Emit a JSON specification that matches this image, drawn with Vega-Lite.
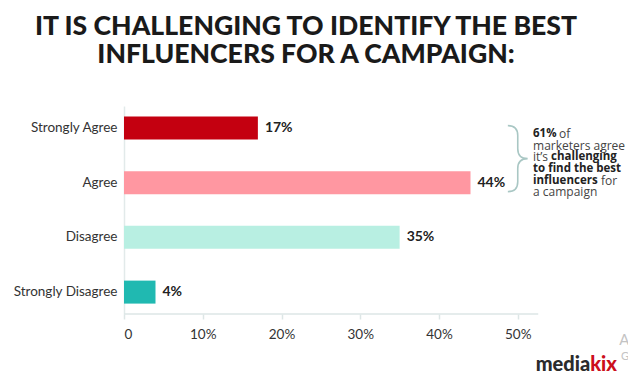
{
  "$schema": "https://vega.github.io/schema/vega-lite/v6.json",
  "width": 504,
  "height": 208,
  "autosize": {"type": "none"},
  "padding": {"left": 124, "top": 106, "right": 0, "bottom": 78},
  "background": "white",
  "config": {"view": {"stroke": null}, "font": "Lato"},
  "title": {
    "text": ["IT IS CHALLENGING TO IDENTIFY THE BEST", "INFLUENCERS FOR A CAMPAIGN:"],
    "font": "Lato", "fontWeight": 900, "fontSize": 26.6, "lineHeight": 28.5,
    "color": "#1a1a1a", "anchor": "middle", "frame": "group", "dx": -70, "offset": 37
  },
  "resolve": {"scale": {"y": "independent"}},
  "layer": [
    {
      "data": {"values": [
        {"response": "Strongly Agree", "pct": 17, "label": "17%"},
        {"response": "Agree", "pct": 44, "label": "44%"},
        {"response": "Disagree", "pct": 35, "label": "35%"},
        {"response": "Strongly Disagree", "pct": 4, "label": "4%"}
      ]},
      "encoding": {
        "y": {"field": "response", "type": "nominal",
          "sort": ["Strongly Agree", "Agree", "Disagree", "Strongly Disagree"],
          "scale": {"paddingInner": 0.58, "paddingOuter": 0.19},
          "axis": {"title": null, "ticks": false, "domain": true, "domainColor": "#e2eaea", "domainWidth": 1.5,
            "labelFont": "Lato", "labelFontSize": 13.5, "labelColor": "#333333", "labelPadding": 7}},
        "x": {"field": "pct", "type": "quantitative",
          "scale": {"domain": [0, 64], "nice": false},
          "axis": {"title": null, "values": [0, 10, 20, 30, 40, 50], "grid": false, "domain": false,
            "labelExpr": "datum.value == 0 ? '0' : datum.value + '%'",
            "tickSize": 5, "tickColor": "#dde6e6", "tickWidth": 1.5,
            "labelFont": "Lato", "labelFontSize": 13.5, "labelColor": "#333333", "labelPadding": 8}}
      },
      "layer": [
        {"mark": {"type": "bar"},
         "encoding": {"color": {"field": "response", "type": "nominal", "legend": null,
           "scale": {"domain": ["Strongly Agree", "Agree", "Disagree", "Strongly Disagree"],
             "range": ["#c40010", "#ff97a1", "#b8efe2", "#20b9b1"]}}}},
        {"mark": {"type": "text", "align": "left", "baseline": "middle", "dx": 7,
           "font": "Lato", "fontWeight": "bold", "fontSize": 14, "color": "#222222"},
         "encoding": {"text": {"field": "label"}}}
      ]
    },
    {
      "data": {"values": [{}]},
      "layer": [
        {"mark": {"type": "rule", "color": "#dde6e6", "strokeWidth": 1.5, "y": "height"},
         "encoding": {"x": {"datum": 0, "type": "quantitative"}, "x2": {"datum": 52.6}}},
        {"mark": {"type": "point", "filled": false, "stroke": "#a9c7c4", "strokeWidth": 1.6, "opacity": 1, "size": 4356,
           "shape": "M -0.3 -1 Q 0 -1 0 -0.7 L 0 -0.3 Q 0 0 0.3 0 Q 0 0 0 0.3 L 0 0.7 Q 0 1 -0.3 1"},
         "encoding": {"x": {"datum": 50.0, "type": "quantitative"},
           "y": {"datum": 3.1, "type": "quantitative", "scale": {"domain": [-1.4, 16.4], "reverse": true, "nice": false, "zero": false}, "axis": null}}},
        {"mark": {"type": "text", "text": "61%", "align": "left", "baseline": "middle", "font": "Open Sans", "fontWeight": "bold", "fontSize": 11.5, "color": "#222222"},
         "encoding": {"x": {"datum": 51.94, "type": "quantitative"}, "y": {"datum": 1, "type": "quantitative"}}},
        {"mark": {"type": "text", "text": "of", "align": "left", "baseline": "middle", "font": "Open Sans", "fontSize": 12, "color": "#444444"},
         "encoding": {"x": {"datum": 55.24, "type": "quantitative"}, "y": {"datum": 1, "type": "quantitative"}}},
        {"mark": {"type": "text", "text": "marketers agree", "align": "left", "baseline": "middle", "font": "Open Sans", "fontSize": 12, "color": "#444444"},
         "encoding": {"x": {"datum": 51.94, "type": "quantitative"}, "y": {"datum": 2, "type": "quantitative"}}},
        {"mark": {"type": "text", "text": "it’s", "align": "left", "baseline": "middle", "font": "Open Sans", "fontSize": 12, "color": "#444444"},
         "encoding": {"x": {"datum": 51.94, "type": "quantitative"}, "y": {"datum": 3, "type": "quantitative"}}},
        {"mark": {"type": "text", "text": "challenging", "align": "left", "baseline": "middle", "font": "Open Sans", "fontWeight": "bold", "fontSize": 11.5, "color": "#222222"},
         "encoding": {"x": {"datum": 54.22, "type": "quantitative"}, "y": {"datum": 3, "type": "quantitative"}}},
        {"mark": {"type": "text", "text": "to find the best", "align": "left", "baseline": "middle", "font": "Open Sans", "fontWeight": "bold", "fontSize": 11.5, "color": "#222222"},
         "encoding": {"x": {"datum": 51.94, "type": "quantitative"}, "y": {"datum": 4, "type": "quantitative"}}},
        {"mark": {"type": "text", "text": "influencers", "align": "left", "baseline": "middle", "font": "Open Sans", "fontWeight": "bold", "fontSize": 11.5, "color": "#222222"},
         "encoding": {"x": {"datum": 51.94, "type": "quantitative"}, "y": {"datum": 5, "type": "quantitative"}}},
        {"mark": {"type": "text", "text": "for", "align": "left", "baseline": "middle", "font": "Open Sans", "fontSize": 12, "color": "#444444"},
         "encoding": {"x": {"datum": 60.57, "type": "quantitative"}, "y": {"datum": 5, "type": "quantitative"}}},
        {"mark": {"type": "text", "text": "a campaign", "align": "left", "baseline": "middle", "font": "Open Sans", "fontSize": 12, "color": "#444444"},
         "encoding": {"x": {"datum": 51.94, "type": "quantitative"}, "y": {"datum": 6, "type": "quantitative"}}},
        {"mark": {"type": "text", "text": "media", "align": "right", "baseline": "middle", "font": "Lato", "fontWeight": 900, "fontSize": 20, "color": "#2b2b2b"},
         "encoding": {"x": {"datum": 59.2, "type": "quantitative"}, "y": {"datum": 20.77, "type": "quantitative"}}},
        {"mark": {"type": "text", "text": "kix", "align": "left", "baseline": "middle", "font": "Lato", "fontWeight": 900, "fontSize": 20, "color": "#cc0f1c"},
         "encoding": {"x": {"datum": 59.2, "type": "quantitative"}, "y": {"datum": 20.77, "type": "quantitative"}}},
        {"mark": {"type": "text", "text": "A", "align": "left", "baseline": "middle", "font": "Lato", "fontSize": 15, "color": "#c4c4c4"},
         "encoding": {"x": {"datum": 62.9, "type": "quantitative"}, "y": {"datum": 18.63, "type": "quantitative"}}},
        {"mark": {"type": "text", "text": "G", "align": "left", "baseline": "middle", "font": "Lato", "fontSize": 11, "color": "#c4c4c4"},
         "encoding": {"x": {"datum": 63.1, "type": "quantitative"}, "y": {"datum": 20.08, "type": "quantitative"}}}
      ]
    }
  ]
}
